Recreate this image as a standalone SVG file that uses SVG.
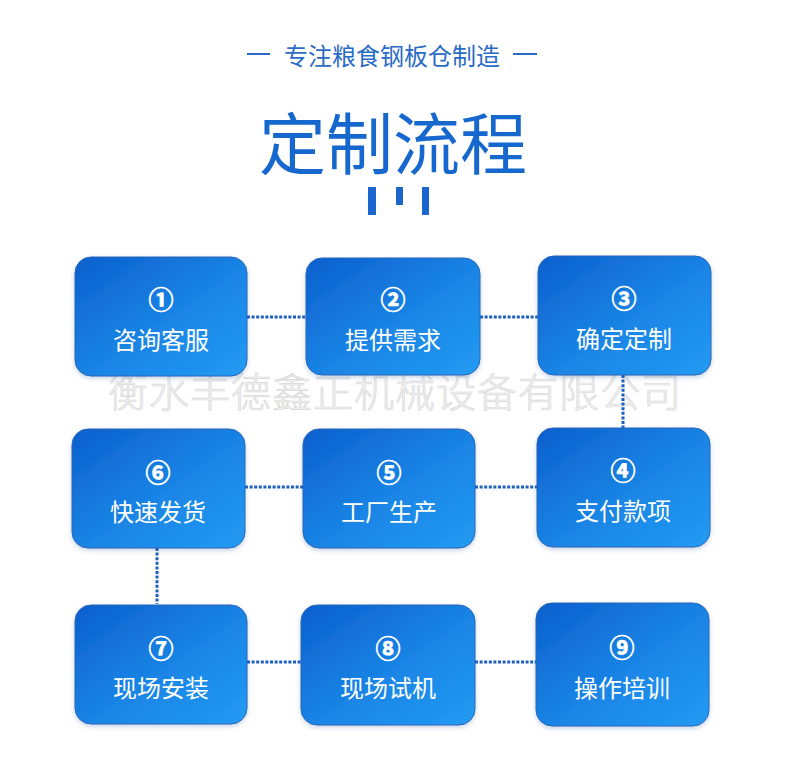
<svg xmlns="http://www.w3.org/2000/svg" width="792" height="777" viewBox="0 0 792 777">
<defs>
<linearGradient id="boxg" x1="0" y1="0" x2="1" y2="1">
<stop offset="0" stop-color="#0c5fcd"/>
<stop offset="0.55" stop-color="#1a85e6"/>
<stop offset="1" stop-color="#229bf3"/>
</linearGradient>
<filter id="sh" x="-10%" y="-10%" width="120%" height="125%">
<feDropShadow dx="0" dy="2" stdDeviation="2" flood-color="#1a4f99" flood-opacity="0.25"/>
</filter>
<style>
.box{fill:url(#boxg);stroke:#2a66b8;stroke-width:1;filter:url(#sh)}
.num{font-family:"Noto Sans CJK SC","Noto Sans",sans-serif;font-size:25px;font-weight:bold;fill:#ffffff;stroke:#ffffff;stroke-width:0.7;text-anchor:middle;dominant-baseline:central}
.lbl{font-family:"Noto Sans CJK SC",sans-serif;font-size:24px;fill:#ffffff;text-anchor:middle;dominant-baseline:central}
.con{stroke:#1d5fbf;stroke-width:3;stroke-dasharray:3 1.6;fill:none}
.hd{font-family:"Noto Sans CJK SC",sans-serif;fill:#2a6bc6;text-anchor:middle;dominant-baseline:central}
</style>
</defs>
<rect width="792" height="777" fill="#ffffff"/>

<g id="header">
<line x1="247" y1="54" x2="270" y2="54" stroke="#2a6bc6" stroke-width="2"/>
<text class="hd" x="392" y="54" font-size="24">专注粮食钢板仓制造</text>
<line x1="513" y1="54" x2="537" y2="54" stroke="#2a6bc6" stroke-width="2"/>
<text x="393" y="139" font-family="Noto Sans CJK SC, sans-serif" font-size="67" fill="#1668cf" text-anchor="middle" dominant-baseline="central">定制流程</text>
<rect x="368" y="187" width="8" height="28" fill="#1a66cc"/>
<rect x="396" y="187" width="7" height="18" fill="#1a66cc"/>
<rect x="422" y="187" width="7" height="28" fill="#1a66cc"/>
</g>

<text id="watermark" x="395" y="390" font-family="Noto Sans CJK SC, sans-serif" font-size="40" font-weight="300" letter-spacing="1" fill="#f2f2f2" stroke="#d8d8d8" stroke-width="0.7" text-anchor="middle" dominant-baseline="central">衡水丰德鑫正机械设备有限公司</text>

<g id="connectors">
<line class="con" x1="247" y1="317" x2="306" y2="317"/>
<line class="con" x1="480" y1="317" x2="538" y2="317"/>
<line class="con" x1="623" y1="375" x2="623" y2="428"/>
<line class="con" x1="245" y1="487" x2="303" y2="487"/>
<line class="con" x1="475" y1="487" x2="537" y2="487"/>
<line class="con" x1="157" y1="548" x2="157" y2="604"/>
<line class="con" x1="247" y1="662" x2="301" y2="662"/>
<line class="con" x1="475" y1="662" x2="536" y2="662"/>
</g>

<g id="n1"><rect class="box" x="75" y="257" width="172" height="119" rx="16"/><text class="num" x="161" y="298">①</text><text class="lbl" x="161" y="338">咨询客服</text></g>
<g id="n2"><rect class="box" x="306" y="258" width="174" height="117" rx="16"/><text class="num" x="393" y="298">②</text><text class="lbl" x="393" y="338">提供需求</text></g>
<g id="n3"><rect class="box" x="538" y="256" width="173" height="119" rx="16"/><text class="num" x="624" y="297">③</text><text class="lbl" x="624" y="337">确定定制</text></g>
<g id="n4"><rect class="box" x="537" y="428" width="173" height="119" rx="16"/><text class="num" x="623" y="469">④</text><text class="lbl" x="623" y="509">支付款项</text></g>
<g id="n5"><rect class="box" x="303" y="429" width="172" height="119" rx="16"/><text class="num" x="389" y="471">⑤</text><text class="lbl" x="389" y="510">工厂生产</text></g>
<g id="n6"><rect class="box" x="72" y="429" width="173" height="119" rx="16"/><text class="num" x="158" y="471">⑥</text><text class="lbl" x="158" y="510">快速发货</text></g>
<g id="n7"><rect class="box" x="75" y="605" width="172" height="119" rx="16"/><text class="num" x="161" y="647">⑦</text><text class="lbl" x="161" y="686">现场安装</text></g>
<g id="n8"><rect class="box" x="301" y="605" width="174" height="120" rx="16"/><text class="num" x="388" y="647">⑧</text><text class="lbl" x="388" y="686">现场试机</text></g>
<g id="n9"><rect class="box" x="536" y="603" width="173" height="123" rx="16"/><text class="num" x="622" y="646">⑨</text><text class="lbl" x="622" y="686">操作培训</text></g>
</svg>
